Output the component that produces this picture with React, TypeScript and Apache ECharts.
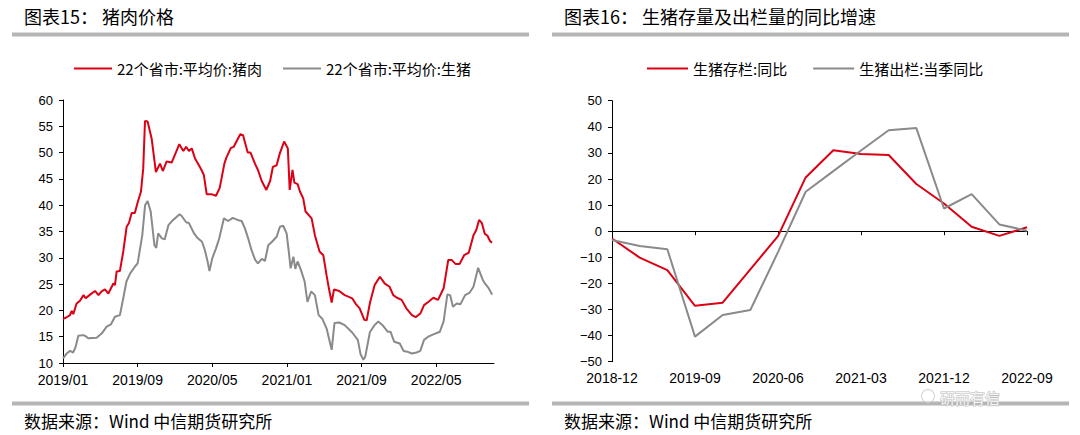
import React, { useEffect, useRef } from "react";
import * as echarts from "echarts";

// ---------- Left chart: 22省市 average prices (x = months since 2019/01) ----------
const porkT = [0.0, 0.4, 0.75, 0.93, 1.1, 1.46, 1.8, 2.2, 2.43, 2.9, 3.43, 3.8, 4.14, 4.5, 4.86, 5.4, 5.57, 5.75, 6.1, 6.46, 6.82, 7.07, 7.36, 7.7, 8.0, 8.36, 8.6, 8.79, 9.07, 9.5, 9.96, 10.4, 10.7, 11.1, 11.65, 12.47, 12.9, 13.2, 13.5, 13.8, 14.15, 14.6, 14.9, 15.1, 15.4, 15.9, 16.4, 16.8, 17.3, 17.5, 18.0, 18.3, 19.0, 19.3, 19.8, 20.1, 20.6, 20.9, 21.3, 21.8, 22.2, 22.5, 22.9, 23.25, 23.7, 24.1, 24.3, 24.6, 24.8, 25.15, 25.4, 25.75, 26.0, 26.65, 27.0, 27.5, 27.9, 28.25, 28.5, 28.8, 29.05, 29.6, 30.2, 31.0, 31.4, 31.8, 32.3, 32.55, 32.9, 33.4, 33.97, 34.5, 35.0, 35.4, 35.8, 36.3, 36.8, 37.4, 37.8, 38.3, 38.7, 39.15, 39.7, 40.2, 40.8, 41.3, 41.65, 42.1, 42.5, 43.0, 43.5, 44.0, 44.3, 44.6, 44.9, 45.2, 45.5, 45.8, 46.0];
const porkV = [18.4, 18.7, 19.1, 19.9, 19.3, 21.3, 21.8, 22.9, 22.3, 23.0, 23.7, 22.9, 23.6, 24.0, 23.2, 25.1, 24.8, 27.4, 27.5, 31.2, 35.9, 36.6, 38.5, 38.5, 40.5, 42.6, 47.0, 56.0, 55.9, 52.7, 46.3, 47.9, 46.5, 48.3, 48.1, 51.6, 50.3, 51.1, 50.3, 50.8, 48.9, 47.5, 46.5, 45.7, 42.1, 42.1, 41.8, 43.3, 47.9, 49.0, 50.9, 51.1, 53.5, 53.3, 50.0, 50.0, 47.8, 46.7, 44.6, 42.9, 44.6, 47.3, 47.6, 49.9, 52.1, 50.8, 42.9, 46.7, 44.3, 44.0, 42.6, 41.3, 38.8, 37.5, 34.3, 31.2, 30.5, 26.7, 24.2, 21.5, 24.0, 23.7, 22.9, 22.3, 21.2, 20.4, 18.2, 18.1, 21.4, 24.8, 26.4, 25.1, 24.5, 22.9, 22.4, 22.0, 20.4, 19.1, 18.7, 19.4, 21.0, 21.6, 22.4, 22.0, 24.2, 29.6, 29.6, 28.8, 28.8, 30.5, 31.0, 34.3, 35.3, 37.2, 36.6, 34.6, 34.2, 33.1, 32.9];

const hogT = [0.0, 0.39, 0.75, 1.1, 1.36, 1.64, 2.2, 2.5, 2.7, 3.6, 4.14, 4.68, 5.14, 5.57, 6.1, 6.46, 6.8, 7.2, 7.7, 8.0, 8.5, 8.8, 9.07, 9.4, 9.8, 10.0, 10.2, 10.6, 10.9, 11.3, 11.8, 12.5, 12.7, 13.2, 13.5, 14.0, 14.4, 14.9, 15.2, 15.5, 15.7, 16.0, 16.4, 16.75, 17.25, 17.7, 18.2, 18.7, 19.15, 19.5, 19.9, 20.2, 20.6, 20.9, 21.3, 21.65, 22.0, 22.4, 22.9, 23.25, 23.6, 23.97, 24.2, 24.4, 24.7, 24.9, 25.15, 25.5, 25.9, 26.2, 26.6, 27.0, 27.4, 27.8, 28.25, 28.8, 29.1, 29.6, 30.2, 31.0, 31.6, 31.9, 32.2, 32.4, 32.9, 33.4, 33.8, 34.25, 34.8, 35.1, 35.5, 36.1, 36.5, 36.9, 37.4, 37.9, 38.3, 38.7, 39.15, 39.7, 40.4, 40.8, 41.2, 41.5, 41.8, 42.2, 42.6, 43.1, 43.6, 44.0, 44.5, 45.0, 45.2, 45.6, 46.0];
const hogV = [10.9, 11.8, 12.3, 12.0, 13.1, 15.2, 15.3, 15.0, 14.7, 14.8, 15.6, 16.9, 17.35, 18.8, 19.1, 22.3, 25.5, 27.05, 28.3, 28.95, 34.3, 40.0, 40.8, 38.8, 32.4, 31.9, 34.65, 33.7, 33.5, 36.2, 37.2, 38.3, 38.0, 36.75, 36.6, 34.8, 33.8, 33.05, 31.5, 29.3, 27.5, 29.9, 31.8, 33.7, 37.5, 37.0, 37.6, 37.2, 37.0, 35.6, 33.4, 31.5, 29.6, 28.95, 29.8, 29.4, 32.4, 33.05, 34.0, 35.9, 36.1, 34.65, 31.2, 28.0, 30.2, 27.9, 29.3, 27.7, 25.5, 21.6, 23.6, 22.9, 19.1, 18.4, 16.6, 12.5, 17.6, 17.7, 17.2, 15.8, 14.4, 11.65, 10.6, 11.2, 15.9, 17.2, 17.9, 17.2, 15.95, 15.95, 14.05, 13.7, 12.3, 12.15, 11.8, 12.0, 12.3, 14.4, 15.0, 15.45, 15.95, 17.9, 23.05, 22.9, 20.7, 21.3, 21.15, 22.9, 23.4, 24.5, 28.1, 25.8, 25.2, 24.3, 23.0];

const leftTicks = [0, 8, 16, 24, 32, 40];

// ---------- Right chart: quarterly YoY growth ----------
const quarters = ["2018-12", "2019-03", "2019-06", "2019-09", "2019-12", "2020-03", "2020-06", "2020-09", "2020-12", "2021-03", "2021-06", "2021-09", "2021-12", "2022-03", "2022-06", "2022-09"];
const stockYoY = [-2.8, -10.1, -14.9, -28.6, -27.4, -14.6, -1.9, 20.6, 31.0, 29.6, 29.2, 18.1, 10.6, 1.7, -1.8, 1.5];
const slaughterYoY = [-3.4, -5.7, -6.9, -40.4, -32.1, -30.2, -8.0, 15.1, 23.0, 30.9, 38.7, 39.5, 8.7, 14.2, 2.6, 0.2];

const NAME_PORK = "22个省市:平均价:猪肉";
const NAME_HOG = "22个省市:平均价:生猪";
const NAME_STOCK = "生猪存栏:同比";
const NAME_OUT = "生猪出栏:当季同比";

const RED = "#dc0014";
const GRAY = "#8a8a8a";
const BAR = "#b5b5b5";
const CJK = '"Noto Sans CJK SC", "Noto Sans", sans-serif';
const NUM = '"Liberation Sans", Arial, sans-serif';

const monthLabel = (v: number) => {
  const y = 2019 + Math.floor(v / 12);
  const m = Math.round(v % 12) + 1;
  return `${y}/${String(m).padStart(2, "0")}`;
};

const minusFmt = (v: number) => (v < 0 ? "\u2212" + Math.abs(v) : String(v));

export default function App() {
  const ref = useRef<HTMLDivElement>(null);
  useEffect(() => {
    if (!ref.current) return;
    const chart = echarts.init(ref.current, undefined, { renderer: "svg" });
    const axisLine = { show: true, lineStyle: { color: "#000", width: 1 } };
    const pork = porkT.map((t, i) => [t, porkV[i]]);
    const hog = hogT.map((t, i) => [t, hogV[i]]);

    const titleText = (x: number, text: string) => ({
      type: "text",
      x,
      y: 16,
      style: { text, fontSize: 18, fontFamily: CJK, fill: "#000", verticalAlign: "middle" },
    });
    const footText = (x: number) => ({
      type: "text",
      x,
      y: 420,
      style: { text: "数据来源：Wind 中信期货研究所", fontSize: 17, fontFamily: CJK, fill: "#000", verticalAlign: "middle" },
    });
    const bar = (x: number, y: number) => ({
      type: "rect",
      shape: { x, y, width: 517, height: 4 },
      style: { fill: BAR },
    });

    chart.setOption({
      animation: false,
      backgroundColor: "#fff",
      grid: [
        { left: 63, right: 586, top: 100, bottom: 72 },
        { left: 612, right: 53, top: 100.7, bottom: 73.3 },
      ],
      legend: [
        {
          data: [NAME_PORK, NAME_HOG],
          left: 69,
          top: 56,
          icon: "rect",
          itemWidth: 38,
          itemHeight: 2,
          itemGap: 21,
          textStyle: { fontSize: 15, fontFamily: CJK, color: "#000" },
        },
        {
          data: [NAME_STOCK, NAME_OUT],
          left: 642,
          top: 56,
          icon: "rect",
          itemWidth: 41,
          itemHeight: 2,
          itemGap: 26,
          textStyle: { fontSize: 15, fontFamily: CJK, color: "#000" },
        },
      ],
      xAxis: [
        {
          type: "value",
          gridIndex: 0,
          min: 0,
          max: 46.2,
          axisLine,
          axisTick: { show: true, customValues: leftTicks, length: 4, lineStyle: { color: "#000" } },
          axisLabel: {
            customValues: leftTicks,
            formatter: monthLabel,
            fontSize: 14,
            fontFamily: NUM,
            color: "#000",
            margin: 10,
          },
          splitLine: { show: false },
        },
        {
          type: "category",
          gridIndex: 1,
          data: quarters,
          boundaryGap: false,
          axisLine: { show: true, onZero: true, lineStyle: { color: "#000", width: 1 } },
          axisTick: { show: true, interval: 2, length: 4, lineStyle: { color: "#000" } },
          axisLabel: { show: false },
          splitLine: { show: false },
        },
        {
          type: "category",
          gridIndex: 1,
          data: quarters,
          boundaryGap: false,
          position: "bottom",
          axisLine: { show: false, onZero: false },
          axisTick: { show: false },
          axisLabel: { interval: 2, fontSize: 14, fontFamily: NUM, color: "#000", margin: 9 },
          splitLine: { show: false },
        },
      ],
      yAxis: [
        {
          type: "value",
          gridIndex: 0,
          min: 10,
          max: 60,
          interval: 5,
          axisLine,
          axisTick: { show: true, length: 4, lineStyle: { color: "#000" } },
          axisLabel: { fontSize: 13, fontFamily: NUM, color: "#000", margin: 10 },
          splitLine: { show: false },
        },
        {
          type: "value",
          gridIndex: 1,
          min: -50,
          max: 50,
          interval: 10,
          axisLine,
          axisTick: { show: true, length: 4, lineStyle: { color: "#000" } },
          axisLabel: { fontSize: 13, fontFamily: NUM, color: "#000", margin: 10, formatter: minusFmt },
          splitLine: { show: false },
        },
      ],
      series: [
        {
          name: NAME_PORK,
          type: "line",
          xAxisIndex: 0,
          yAxisIndex: 0,
          data: pork,
          showSymbol: false,
          color: RED,
          lineStyle: { color: RED, width: 2 },
        },
        {
          name: NAME_HOG,
          type: "line",
          xAxisIndex: 0,
          yAxisIndex: 0,
          data: hog,
          showSymbol: false,
          color: GRAY,
          lineStyle: { color: GRAY, width: 2 },
          z: 1,
        },
        {
          name: NAME_STOCK,
          type: "line",
          xAxisIndex: 1,
          yAxisIndex: 1,
          data: stockYoY,
          showSymbol: false,
          color: RED,
          lineStyle: { color: RED, width: 2 },
          z: 3,
        },
        {
          name: NAME_OUT,
          type: "line",
          xAxisIndex: 1,
          yAxisIndex: 1,
          data: slaughterYoY,
          showSymbol: false,
          color: GRAY,
          lineStyle: { color: GRAY, width: 2 },
        },
      ],
      graphic: [
        titleText(24, "图表15： 猪肉价格"),
        titleText(564, "图表16： 生猪存量及出栏量的同比增速"),
        bar(12, 32.5),
        bar(552, 32.5),
        bar(12, 401.5),
        bar(552, 401.5),
        footText(24),
        footText(564),
        {
          type: "ring",
          shape: { cx: 928, cy: 396, r: 7, r0: 6 },
          style: { fill: "#d0d0d0" },
        },
        {
          type: "text",
          x: 940,
          y: 397,
          style: {
            text: "研而有信",
            fontSize: 15,
            fontFamily: CJK,
            fill: "rgba(255,255,255,0.85)",
            stroke: "#bdbdbd",
            lineWidth: 1,
            verticalAlign: "middle",
          },
        },
      ],
    });
    return () => chart.dispose();
  }, []);

  return (
    <div
      ref={ref}
      style={{ position: "absolute", left: 0, top: 0, width: 1080, height: 435, background: "#fff" }}
    />
  );
}
